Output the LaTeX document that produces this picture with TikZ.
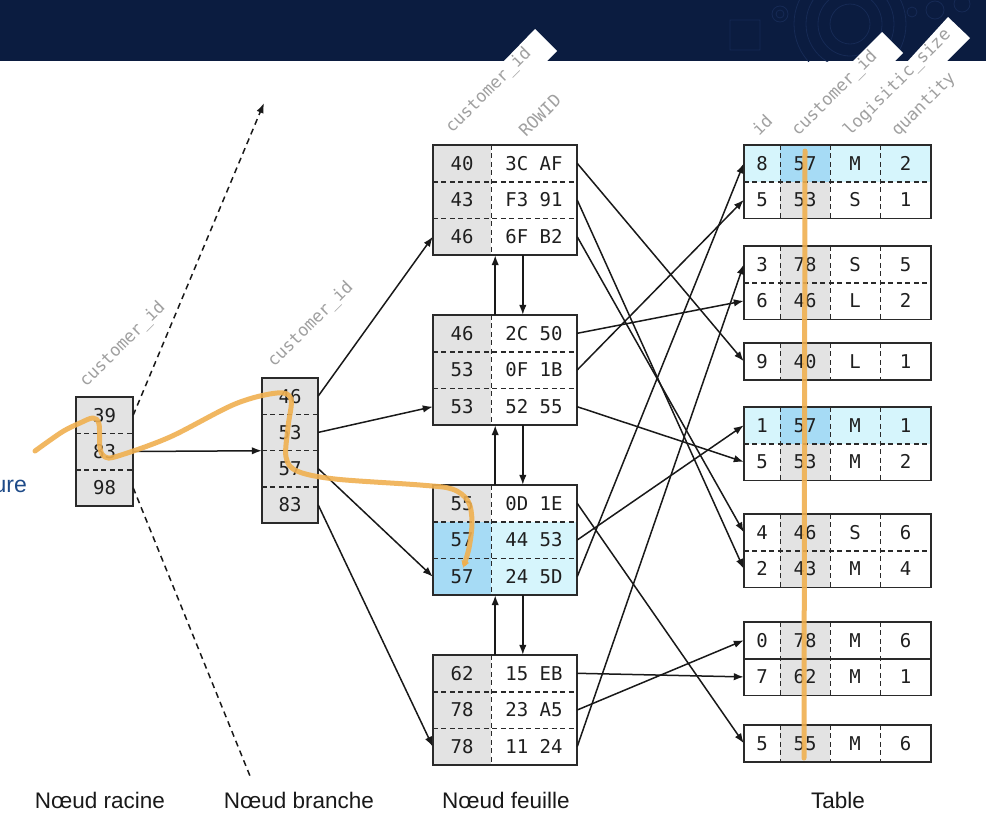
\documentclass[tikz,border=0pt]{standalone}
\usepackage{fontspec}
\setmainfont{Liberation Sans}
\setmonofont{DejaVu Sans Mono}
\usetikzlibrary{arrows.meta,calc}
\definecolor{navy}{HTML}{0B1C40}
\definecolor{deco}{HTML}{162A55}
\definecolor{cellgray}{HTML}{E3E3E3}
\definecolor{hlrow}{HTML}{D6F5FC}
\definecolor{hlkey}{HTML}{A6DBF5}
\definecolor{orangepath}{HTML}{F0B050}
\definecolor{labgray}{HTML}{A0A0A0}
\definecolor{edge}{HTML}{2A2A2A}
\definecolor{urecol}{HTML}{1D4A88}
% leaf row: name, y, key, value, key fill, value fill
\newcommand\LeafRow[6]{%
  \node[cell,fill=#5,minimum width=58pt] (#1k) at (462,#2) {#3};
  \node[cell,fill=#6,minimum width=86pt] (#1v) at (534,#2) {#4};}
% table row: name, y, id, customer, size, qty, row fill, customer fill
\newcommand\TabRow[8]{%
  \node[cell,fill=#7,minimum width=36pt] (#1i) at (762,#2) {#3};
  \node[cell,fill=#8,minimum width=50pt] (#1c) at (805,#2) {#4};
  \node[cell,fill=#7,minimum width=50pt] (#1s) at (855,#2) {#5};
  \node[cell,fill=#7,minimum width=51pt] (#1q) at (905.5,#2) {#6};}
\begin{document}
\begin{tikzpicture}[x=1pt,y=-1pt,
  cell/.style={inner sep=0pt,minimum height=36.6pt,anchor=center,
    font=\ttfamily\fontsize{19}{19}\selectfont,text=black!88},
  boxline/.style={draw=edge,line width=1.6pt},
  sepline/.style={draw=edge,line width=1.4pt,dash pattern=on 5pt off 3.5pt},
  arr/.style={draw=black!90,line width=1.5pt,-{Latex[length=10pt,width=7.5pt]}},
  dasharr/.style={draw=black!90,line width=1.5pt,dash pattern=on 6pt off 4.5pt},
  collab/.style={rotate=45,anchor=base west,inner sep=0pt,text=labgray,
    font=\ttfamily\fontsize{17}{17}\selectfont},
  botlab/.style={anchor=base,font=\fontsize{22.5}{22.5}\selectfont,text=black!90},
  orangeline/.style={draw=orangepath,line width=5pt,line cap=round,line join=round,opacity=0.9}]
\useasboundingbox (0,0) rectangle (986,828);
\fill[white] (0,0) rectangle (986,828);
% banner
\fill[navy] (0,0) rectangle (986,61);
\begin{scope}
  \clip (0,0) rectangle (986,61);
  \draw[deco,line width=0.8pt] (850,24) circle[radius=20pt] (850,24) circle[radius=32pt]
    (850,24) circle[radius=44pt] (850,24) circle[radius=56pt];
  \draw[deco,line width=0.8pt] (780,14) circle[radius=8pt] (780,14) circle[radius=4pt];
  \draw[deco,line width=0.8pt] (935,10) circle[radius=9pt] (962,4) circle[radius=8pt]
    (912,12) circle[radius=5pt] (730,20) rectangle (760,50);
\end{scope}
\fill[white] (503,62) -- (535,29) -- (557,51) -- (546,62) -- cycle;
\fill[white] (852,62) -- (882,32) -- (903,53) -- (894,62) -- cycle;
\fill[white] (907,62) -- (948,17) -- (970,38) -- (946,62) -- cycle;

% root node
\node[cell,fill=cellgray,minimum width=57pt,minimum height=36.33pt] (ra) at (104.5,415.2) {39};
\node[cell,fill=cellgray,minimum width=57pt,minimum height=36.33pt] (rb) at (104.5,451.5) {83};
\node[cell,fill=cellgray,minimum width=57pt,minimum height=36.33pt] (rc) at (104.5,487.8) {98};
\draw[sepline] (ra.south west) -- (ra.south east);
\draw[sepline] (rb.south west) -- (rb.south east);
\draw[boxline] (ra.north west) rectangle (rc.south east);

% branch node
\node[cell,fill=cellgray,minimum width=56pt,minimum height=36.25pt] (b1) at (290,396.1) {46};
\node[cell,fill=cellgray,minimum width=56pt,minimum height=36.25pt] (b2) at (290,432.4) {53};
\node[cell,fill=cellgray,minimum width=56pt,minimum height=36.25pt] (b3) at (290,468.6) {57};
\node[cell,fill=cellgray,minimum width=56pt,minimum height=36.25pt] (b4) at (290,504.9) {83};
\foreach \r in {b1,b2,b3} \draw[sepline] (\r.south west) -- (\r.south east);
\draw[boxline] (b1.north west) rectangle (b4.south east);

% leaf nodes
\LeafRow{l1a}{163.3}{40}{3C AF}{cellgray}{white}
\LeafRow{l1b}{200.0}{43}{F3 91}{cellgray}{white}
\LeafRow{l1c}{236.7}{46}{6F B2}{cellgray}{white}
\LeafRow{l2a}{333.3}{46}{2C 50}{cellgray}{white}
\LeafRow{l2b}{370.0}{53}{0F 1B}{cellgray}{white}
\LeafRow{l2c}{406.7}{53}{52 55}{cellgray}{white}
\LeafRow{l3a}{503.3}{55}{0D 1E}{cellgray}{white}
\LeafRow{l3b}{540.0}{57}{44 53}{hlkey}{hlrow}
\LeafRow{l3c}{576.7}{57}{24 5D}{hlkey}{hlrow}
\LeafRow{l4a}{673.3}{62}{15 EB}{cellgray}{white}
\LeafRow{l4b}{710.0}{78}{23 A5}{cellgray}{white}
\LeafRow{l4c}{746.7}{78}{11 24}{cellgray}{white}
\foreach \lf in {l1,l2,l3,l4} {
  \draw[sepline] (\lf ak.south west) -- (\lf av.south east);
  \draw[sepline] (\lf bk.south west) -- (\lf bv.south east);
  \draw[sepline] (\lf ak.north east) -- (\lf ck.south east);
  \draw[boxline] (\lf ak.north west) rectangle (\lf cv.south east);
}

% table
\TabRow{ta1}{163.3}{8}{57}{M}{2}{hlrow}{hlkey}
\TabRow{ta2}{199.9}{5}{53}{S}{1}{white}{cellgray}
\TabRow{tb1}{264.3}{3}{78}{S}{5}{white}{cellgray}
\TabRow{tb2}{300.9}{6}{46}{L}{2}{white}{cellgray}
\TabRow{tc1}{361.3}{9}{40}{L}{1}{white}{cellgray}
\TabRow{td1}{425.3}{1}{57}{M}{1}{hlrow}{hlkey}
\TabRow{td2}{461.9}{5}{53}{M}{2}{white}{cellgray}
\TabRow{te1}{532.3}{4}{46}{S}{6}{white}{cellgray}
\TabRow{te2}{568.9}{2}{43}{M}{4}{white}{cellgray}
\TabRow{tf1}{640.3}{0}{78}{M}{6}{white}{cellgray}
\TabRow{tf2}{676.9}{7}{62}{M}{1}{white}{cellgray}
\TabRow{tg1}{743.3}{5}{55}{M}{6}{white}{cellgray}
\foreach \p in {ta1,tb1,td1,te1} \draw[sepline] (\p i.south west) -- (\p q.south east);
\draw[boxline,line width=1.4pt] (tf1i.south west) -- (tf1q.south east);
\foreach \p/\q in {ta1/ta2,tb1/tb2,tc1/tc1,td1/td2,te1/te2,tf1/tf2,tg1/tg1} {
  \foreach \c in {i,c,s} \draw[sepline] (\p\c.north east) -- (\q\c.south east);
  \draw[boxline] (\p i.north west) rectangle (\q q.south east);
}

% column labels
\node[collab] (hroot) at (86,388) {customer\_id};
\node[collab] (hbranch) at (274,368) {customer\_id};
\node[collab] (hleafc) at (452,134) {customer\_id};
\node[collab] (hleafr) at (526,138) {ROWID};
\node[collab] (htid) at (759,137) {id};
\node[collab] (htcust) at (798,137) {customer\_id};
\node[collab] (htsize) at (850,137) {logisitic\_size};
\node[collab] (htqty) at (898,137) {quantity};

% root connectors
\coordinate (upend) at (264,103);
\coordinate (downend) at (250,776);
\draw[dasharr,-{Latex[length=10pt,width=7.5pt]}] (ra.east) -- (upend);
\draw[dasharr] (rc.east) -- (downend);
\draw[arr] (rb.east) -- (b2.south west);

% branch connectors
\draw[arr] (b1.east) -- (l1ck.west);
\draw[arr] (b2.east) -- (l2ck.west);
\draw[arr] (b3.east) -- (l3ck.west);
\draw[arr] (b4.east) -- (l4ck.west);

% leaf sibling links
\foreach \xa/\xb in {l1/l2,l2/l3,l3/l4} {
  \draw[arr] ([xshift=4pt]\xb ak.north east) -- ([xshift=4pt]\xa ck.south east);
  \draw[arr] ([xshift=32pt]\xa cv.south west) -- ([xshift=32pt]\xb av.north west);
}

% leaf -> table
\draw[arr] (l1av.east) -- (tc1i.west);
\draw[arr] (l1bv.east) -- (te2i.west);
\draw[arr] (l1cv.east) -- (te1i.west);
\draw[arr] (l2av.east) -- (tb2i.west);
\draw[arr] (l2bv.east) -- (ta2i.west);
\draw[arr] (l2cv.east) -- (td2i.west);
\draw[arr] (l3av.east) -- (tg1i.west);
\draw[arr] (l3bv.east) -- (td1i.west);
\draw[arr] (l3cv.east) -- (ta1i.west);
\draw[arr] (l4av.east) -- (tf2i.west);
\draw[arr] (l4bv.east) -- (tf1i.west);
\draw[arr] (l4cv.east) -- (tb1i.west);

% orange paths
\draw[orangeline,-{Latex[length=7pt,width=9pt]}] plot[smooth,tension=0.55] coordinates {
  (35,451) (62,432) (80,423) (93,418) (99,424) (100,448) (105,457) (118,456)
  (170,437) (235,404) (277,393) (291,399) (288,427) (286,457) (297,471)
  (335,479) (420,485) (452,489) (468,501) (472,522) (469,548) (463,568)};
\coordinate (otop) at (805,151);
\coordinate (obot) at (804,758);
\draw[orangeline] (otop) -- (obot);

% texts
\node[anchor=base east,inner sep=0pt,text=urecol,font=\fontsize{23}{23}\selectfont] (ure) at (27,492) {ure};
\node[botlab] (lroot) at (100,808) {Nœud racine};
\node[botlab] (lbranch) at (299,808) {Nœud branche};
\node[botlab] (lleaf) at (506,808) {Nœud feuille};
\node[botlab] (ltable) at (838,808) {Table};
\end{tikzpicture}
\end{document}
